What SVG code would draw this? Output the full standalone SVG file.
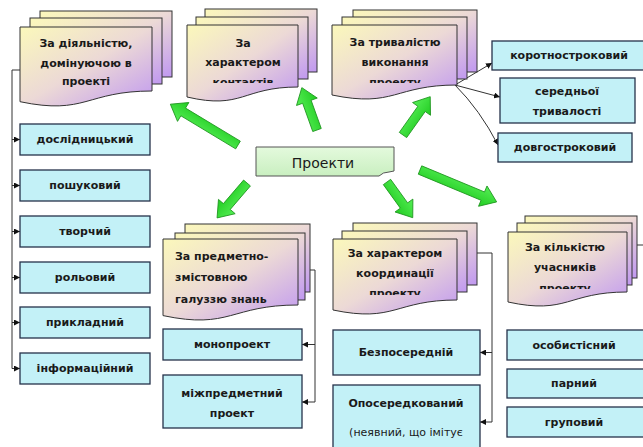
<svg xmlns="http://www.w3.org/2000/svg" width="643" height="447" viewBox="0 0 643 447">
<defs>
<linearGradient id="docg" x1="0" y1="0" x2="1" y2="1">
<stop offset="0" stop-color="#fbf8bb"/>
<stop offset="0.5" stop-color="#ecd9d6"/>
<stop offset="1" stop-color="#c098f0"/>
</linearGradient>
<linearGradient id="ctr" x1="0" y1="0" x2="0" y2="1">
<stop offset="0" stop-color="#e4fadd"/>
<stop offset="1" stop-color="#c9efc0"/>
</linearGradient>
<linearGradient id="arw" x1="0" y1="0" x2="0" y2="1">
<stop offset="0" stop-color="#55ee55"/>
<stop offset="1" stop-color="#22cc22"/>
</linearGradient>
<marker id="ah" viewBox="0 0 10 10" refX="10" refY="5" markerWidth="6" markerHeight="6" orient="auto" markerUnits="userSpaceOnUse">
<path d="M0 0 L10 5 L0 10 Z" fill="#111"/>
</marker>
<clipPath id="c2"><rect x="180" y="0" width="130" height="83"/></clipPath>
<clipPath id="c3"><rect x="325" y="0" width="140" height="83"/></clipPath>
<clipPath id="c4"><rect x="325" y="200" width="140" height="95"/></clipPath>
<clipPath id="c5"><rect x="500" y="200" width="140" height="89"/></clipPath>
</defs>
<style>
.pg{fill:url(#docg);stroke:#333;stroke-width:1}
.bx{fill:#c3f1f7;stroke:#25324a;stroke-width:1.3}
.t{font-family:"DejaVu Sans",Verdana,sans-serif;font-weight:bold;font-size:11px;fill:#1a1a1a;text-anchor:middle;dominant-baseline:central}
.tl{text-anchor:start}
.cn{fill:none;stroke:#333;stroke-width:1}
.ga{fill:url(#arw);stroke:#1d941d;stroke-width:0.8}
</style>

<g id="connectors">
<path class="cn" d="M20 70 H12 V368.5"/>
<path class="cn" d="M12 139.5 H20" marker-end="url(#ah)"/>
<path class="cn" d="M12 185.5 H20" marker-end="url(#ah)"/>
<path class="cn" d="M12 231.5 H20" marker-end="url(#ah)"/>
<path class="cn" d="M12 277.5 H20" marker-end="url(#ah)"/>
<path class="cn" d="M12 322.5 H20" marker-end="url(#ah)"/>
<path class="cn" d="M12 368.5 H20" marker-end="url(#ah)"/>
<path class="cn" d="M455 85 L492 63" marker-end="url(#ah)"/>
<path class="cn" d="M455 85 L500 97" marker-end="url(#ah)"/>
<path class="cn" d="M455 85 Q480 110 498 145" marker-end="url(#ah)"/>
<path class="cn" d="M310 270 H315 V402"/>
<path class="cn" d="M315 344.5 H302" marker-end="url(#ah)"/>
<path class="cn" d="M315 402 H302" marker-end="url(#ah)"/>
<path class="cn" d="M477 253 H492 V422"/>
<path class="cn" d="M492 352.5 H480" marker-end="url(#ah)"/>
<path class="cn" d="M492 422 H480" marker-end="url(#ah)"/>
<path class="cn" d="M637 245 H643"/>
<g id="green-arrows">
<path class="ga" transform="translate(238 145) rotate(211.1)" d="M0 -4.5 H64 V-11 L79 0 L64 11 V4.5 H0 Z"/>
<path class="ga" transform="translate(317 130) rotate(-109.7)" d="M0 -4.5 H30 V-11 L45 0 L30 11 V4.5 H0 Z"/>
<path class="ga" transform="translate(403 135) rotate(-54.6)" d="M0 -4.5 H32 V-11 L47 0 L32 11 V4.5 H0 Z"/>
<path class="ga" transform="translate(420 170) rotate(22.6)" d="M0 -4.5 H68 V-11 L83 0 L68 11 V4.5 H0 Z"/>
<path class="ga" transform="translate(387 182) rotate(54.2)" d="M0 -4.5 H29 V-11 L44 0 L29 11 V4.5 H0 Z"/>
<path class="ga" transform="translate(247 183) rotate(130.6)" d="M0 -4.5 H31 V-11 L46 0 L31 11 V4.5 H0 Z"/>
</g>
</g>

<g id="center">
<path d="M256 147 H394 V171 L389 172 Q383 172 379 176 H256 Z" fill="url(#ctr)" stroke="#555" stroke-width="1"/>
<text x="323" y="163" style="font-family:'DejaVu Sans',sans-serif;font-size:14px;font-weight:500;fill:#1a1a1a;text-anchor:middle;dominant-baseline:central">Проекти</text>
</g>

<g id="doc-activity">
<rect class="pg" x="40" y="11" width="132" height="66"/>
<rect class="pg" x="30" y="18" width="132" height="66"/>
<path class="pg" d="M20 27 H152 V91 C86 91 86 115.5 20 101.7 Z"/>
<text class="t" x="86" y="43">За діяльністю,</text>
<text class="t" x="86" y="63">домінуючою в</text>
<text class="t" x="86" y="81">проекті</text>
</g>

<g id="doc-contacts">
<rect class="pg" x="205" y="9" width="112" height="63"/>
<rect class="pg" x="196" y="17" width="112" height="62"/>
<path class="pg" d="M187 25 H298 V87 C242.5 87 242.5 110 187 97 Z"/>
<g clip-path="url(#c2)">
<text class="t" x="243" y="43">За</text>
<text class="t" x="243" y="62">характером</text>
<text class="t" x="243" y="82">контактів</text>
</g>
</g>

<g id="doc-duration">
<rect class="pg" x="353" y="10" width="124" height="62"/>
<rect class="pg" x="342" y="17" width="125" height="62"/>
<path class="pg" d="M332 25 H457 V85 C394.5 85 394.5 108 332 95 Z"/>
<g clip-path="url(#c3)">
<text class="t" x="395" y="42">За тривалістю</text>
<text class="t" x="395" y="62">виконання</text>
<text class="t" x="395" y="82">проекту</text>
</g>
</g>

<g id="box-short"><rect class="bx" x="492" y="41" width="152" height="29"/><text class="t" x="569" y="55.5">коротностроковий</text></g>
<g id="box-mid"><rect class="bx" x="500" y="78" width="135" height="45"/><text class="t" x="567" y="91">середньої</text><text class="t" x="567" y="111">тривалості</text></g>
<g id="box-long"><rect class="bx" x="498" y="133" width="134" height="29"/><text class="t" x="565" y="147.5">довгостроковий</text></g>

<g id="box-research"><rect class="bx" x="20" y="124" width="130" height="31"/><text class="t" x="85" y="139.5">дослідницький</text></g>
<g id="box-search"><rect class="bx" x="20" y="170" width="130" height="31"/><text class="t" x="85" y="185.5">пошуковий</text></g>
<g id="box-creative"><rect class="bx" x="20" y="216" width="130" height="31"/><text class="t" x="85" y="231.5">творчий</text></g>
<g id="box-role"><rect class="bx" x="20" y="262" width="130" height="31"/><text class="t" x="85" y="277.5">рольовий</text></g>
<g id="box-applied"><rect class="bx" x="20" y="307" width="130" height="31"/><text class="t" x="85" y="322.5">прикладний</text></g>
<g id="box-info"><rect class="bx" x="20" y="353" width="130" height="31"/><text class="t" x="85" y="368.5">інформаційний</text></g>

<g id="doc-subject">
<rect class="pg" x="185" y="224" width="125" height="68"/>
<rect class="pg" x="175" y="233" width="130" height="67"/>
<path class="pg" d="M163 239 H298 V305 C230.5 305 230.5 329.8 163 315.6 Z"/>
<text class="t tl" x="175" y="256">За предметно-</text>
<text class="t tl" x="175" y="277">змістовною</text>
<text class="t tl" x="175" y="299">галуззю знань</text>
</g>
<g id="box-mono"><rect class="bx" x="163" y="329" width="139" height="31"/><text class="t" x="232" y="344.5">монопроект</text></g>
<g id="box-inter"><rect class="bx" x="163" y="375" width="139" height="53"/><text class="t" x="232" y="393">міжпредметний</text><text class="t" x="232" y="413">проект</text></g>

<g id="doc-coordination">
<rect class="pg" x="353" y="223" width="124" height="62"/>
<rect class="pg" x="342" y="231" width="125" height="61"/>
<path class="pg" d="M333 239 H457 V300 C395 300 395 323 333 310 Z"/>
<g clip-path="url(#c4)">
<text class="t" x="395" y="253">За характером</text>
<text class="t" x="395" y="273">координації</text>
<text class="t" x="395" y="293">проекту</text>
</g>
</g>
<g id="box-direct"><rect class="bx" x="333" y="330" width="147" height="45"/><text class="t" x="406" y="352.5">Безпосередній</text></g>
<g id="box-indirect"><rect class="bx" x="333" y="385" width="147" height="64"/><text class="t" x="406" y="403">Опосередкований</text><text class="t" x="406" y="432" style="font-weight:normal">(неявний, що імітує</text></g>

<g id="doc-participants">
<rect class="pg" x="525" y="216" width="112" height="62"/>
<rect class="pg" x="517" y="223" width="115" height="62"/>
<path class="pg" d="M508 232 H627 V292 C567.5 292 567.5 315 508 302 Z"/>
<g clip-path="url(#c5)">
<text class="t" x="565" y="247">За кількістю</text>
<text class="t" x="565" y="267">учасників</text>
<text class="t" x="565" y="288">проекту</text>
</g>
</g>
<g id="box-individual"><rect class="bx" x="507" y="330" width="137" height="30"/><text class="t" x="574" y="345">особистісний</text></g>
<g id="box-pair"><rect class="bx" x="507" y="369" width="137" height="29"/><text class="t" x="574" y="383.5">парний</text></g>
<g id="box-group"><rect class="bx" x="507" y="407" width="137" height="30"/><text class="t" x="574" y="422">груповий</text></g>
</svg>
